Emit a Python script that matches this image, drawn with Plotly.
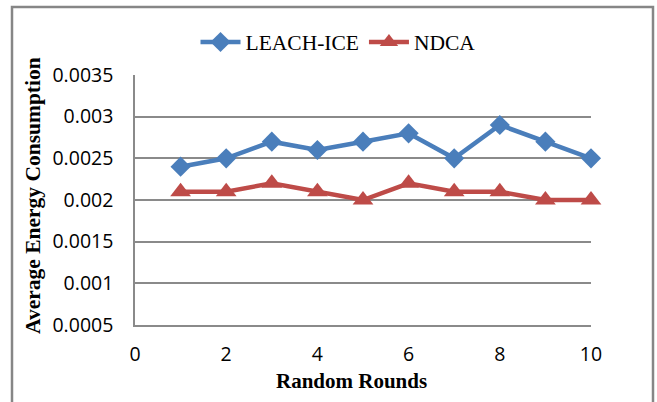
import plotly.graph_objects as go

# Simulation results: average energy consumption per random round
rounds = [1, 2, 3, 4, 5, 6, 7, 8, 9, 10]
leach_ice = [0.0024, 0.0025, 0.0027, 0.0026, 0.0027, 0.0028, 0.0025, 0.0029, 0.0027, 0.0025]
ndca = [0.0021, 0.0021, 0.0022, 0.0021, 0.0020, 0.0022, 0.0021, 0.0021, 0.0020, 0.0020]

y_ticks = [0.0005, 0.001, 0.0015, 0.002, 0.0025, 0.003, 0.0035]
y_tick_text = ["0.0005", "0.001", "0.0015", "0.002", "0.0025", "0.003", "0.0035"]
x_ticks = [0, 2, 4, 6, 8, 10]

W, H = 657, 402
L, R, T, B = 135, 66, 75, 77
pw, ph = W - L - R, H - T - B


def px_x(p):
    return (p - L) / pw


def px_y(p):
    return (H - B - p) / ph


BLUE = "#4A7EBB"
RED = "#BE4B48"
GRID = "#8a8a8a"
TICK_FONT = dict(family="Open Sans, Lato, sans-serif", size=19.5, color="#000000")
SERIF = "Liberation Serif, Times New Roman, serif"

fig = go.Figure()
fig.add_trace(go.Scatter(
    x=rounds, y=leach_ice, name="LEACH-ICE", mode="lines+markers",
    line=dict(color=BLUE, width=4.5),
    marker=dict(symbol="diamond", size=15.5, color=BLUE),
    cliponaxis=False,
))
fig.add_trace(go.Scatter(
    x=rounds, y=ndca, name="NDCA", mode="lines+markers",
    line=dict(color=RED, width=4.5),
    marker=dict(symbol="triangle-up", size=18, color=RED),
    cliponaxis=False,
))

fig.update_layout(
    width=W, height=H,
    margin=dict(l=L, r=R, t=T, b=B),
    paper_bgcolor="white", plot_bgcolor="white",
    showlegend=True,
    legend=dict(
        orientation="h", x=px_x(338), y=px_y(42), xanchor="center", yanchor="middle",
        font=dict(family=SERIF, size=21.5, color="#000000"),
        bgcolor="rgba(0,0,0,0)", itemwidth=40,
    ),
    xaxis=dict(
        range=[0, 10], tickvals=x_ticks, showgrid=False, zeroline=False,
        showline=True, linecolor=GRID, linewidth=1.5,
        ticks="", tickfont=TICK_FONT, ticklabelstandoff=11,
    ),
    yaxis=dict(
        range=[0.0005, 0.0035], tickvals=y_ticks, ticktext=y_tick_text,
        showgrid=True, gridcolor=GRID, gridwidth=1.5, zeroline=False,
        showline=True, linecolor=GRID, linewidth=1.5,
        ticks="", tickfont=TICK_FONT, ticklabelstandoff=16,
    ),
    annotations=[
        dict(text="<b>Random Rounds</b>", x=px_x(351), y=px_y(381),
             xref="paper", yref="paper", showarrow=False,
             xanchor="center", yanchor="middle",
             font=dict(family=SERIF, size=21, color="#000000")),
        dict(text="<b>Average Energy Consumption</b>", x=px_x(33), y=px_y(196),
             xref="paper", yref="paper", showarrow=False, textangle=-90,
             xanchor="center", yanchor="middle",
             font=dict(family=SERIF, size=21.5, color="#000000")),
    ],
    shapes=[
        dict(type="rect", xref="paper", yref="paper",
             x0=px_x(12), x1=px_x(653), y0=px_y(420), y1=px_y(7),
             line=dict(color="#868686", width=2.5), fillcolor="rgba(0,0,0,0)",
             layer="below"),
    ],
)

fig.write_html("out.html")
